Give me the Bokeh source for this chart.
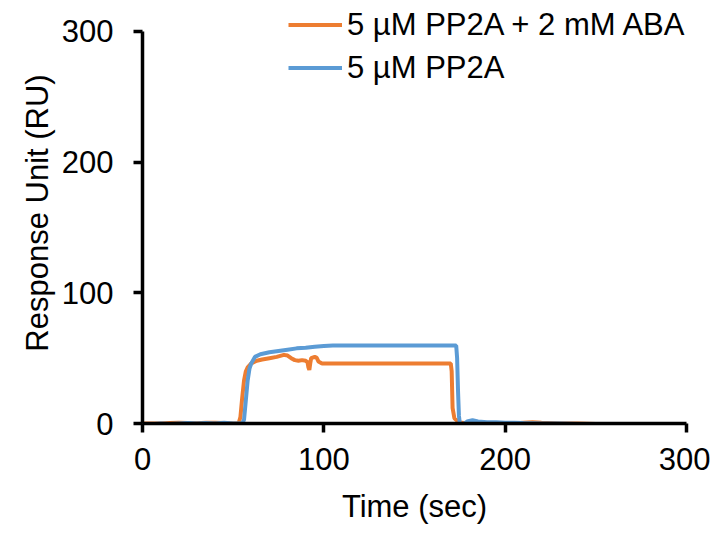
from bokeh.plotting import figure
from bokeh.models import Legend, LegendItem, FixedTicker, Range1d
from bokeh.embed import file_html
from bokeh.resources import INLINE

# ---- data ----
t_aba = [0, 5, 10, 15, 20, 25, 30, 35, 40, 45, 50, 53, 54, 55, 56, 57, 58, 60, 63, 66,
         70, 74, 78, 80, 82, 84, 86, 88, 90, 91, 91.5, 92, 92.5, 93, 95, 96, 97, 99,
         110, 130, 150, 170, 170.5, 171, 172, 174, 176, 180, 190, 197, 205, 210, 215,
         220, 230, 240, 250, 260, 268]
y_aba = [0, 0, 0, 0.3, 0.5, 0.3, 0.2, 0.5, 0.5, 0.3, 0, 0, 5, 20, 33, 40, 43, 46, 48, 49,
         50, 51, 52.5, 52, 50, 48.5, 48, 48.5, 48, 47, 43, 41, 46, 50, 51, 50.5, 47.5, 46,
         46, 46, 46, 46, 40, 12, 4, 1.5, 0.5, 0, 0, -0.3, 0, 0.5, 1, 0.5, 0, 0, -0.3, -0.3, -0.5]

t_pp2a = [0, 5, 10, 15, 20, 25, 30, 35, 40, 45, 50, 55, 56, 57, 58, 59, 60, 62, 65, 70,
          75, 80, 85, 90, 95, 100, 105, 120, 140, 160, 173, 173.5, 174, 174.5, 175, 177,
          179, 182, 185, 190, 195, 200, 205, 210, 220, 230, 240, 250, 260, 270]
y_pp2a = [-0.5, -0.5, 0, -0.3, 0, 0.3, 0, 0.3, 0, 0.5, 0, 0, 3, 18, 33, 42, 46, 51, 53, 54.5,
          55.5, 56.5, 57.5, 58, 58.8, 59.3, 59.6, 59.6, 59.6, 59.6, 59.6, 50, 25, 6, 0, -0.5,
          1.5, 2.5, 1.5, 1, 1, 0.5, 0.5, 0.3, 0, 0, -0.3, -0.5, -0.5, -0.5]

x_ticks = [0, 100, 200, 300]
y_ticks = [0, 100, 200, 300]

ORANGE = "#ED7D31"
BLUE = "#5B9BD5"
FONT = "Liberation Sans"
FS = "31px"

# frame extends above the 300 tick so the legend fits inside; axis drawn only to 300
p = figure(frame_width=544, frame_height=421,
           min_border_left=142, min_border_right=24, min_border_top=2, min_border_bottom=100,
           x_range=Range1d(0, 300), y_range=Range1d(0, 322.19),
           output_backend="svg", toolbar_location=None,
           background_fill_color="white", border_fill_color="white")
p.outline_line_color = None
p.xgrid.visible = False
p.ygrid.visible = False

r_aba = p.line(t_aba, y_aba, line_color=ORANGE, line_width=4)
r_pp = p.line(t_pp2a, y_pp2a, line_color=BLUE, line_width=4)

for ax, ticks in ((p.xaxis[0], x_ticks), (p.yaxis[0], y_ticks)):
    ax.ticker = FixedTicker(ticks=ticks)
    ax.bounds = (ticks[0], ticks[-1])
    ax.axis_line_width = 3.5
    ax.axis_line_color = "black"
    ax.major_tick_line_width = 3.5
    ax.major_tick_line_color = "black"
    ax.major_tick_in = 0
    ax.major_tick_out = 9
    ax.minor_tick_line_color = None
    ax.major_label_text_font = FONT
    ax.major_label_text_font_size = FS
    ax.major_label_text_color = "black"
    ax.axis_label_text_font = FONT
    ax.axis_label_text_font_size = FS
    ax.axis_label_text_font_style = "normal"
    ax.axis_label_text_color = "black"

p.xaxis.axis_label = "Time (sec)"
p.yaxis.axis_label = "Response Unit (RU)"
p.xaxis.major_label_standoff = 15
p.yaxis.major_label_standoff = 20
p.xaxis.axis_label_standoff = 16
p.yaxis.axis_label_standoff = 4

legend = Legend(items=[LegendItem(label="5 µM PP2A + 2 mM ABA", renderers=[r_aba]),
                       LegendItem(label="5 µM PP2A", renderers=[r_pp])],
                location=(146, 334), orientation="vertical",
                glyph_width=54, glyph_height=43, label_standoff=5, spacing=0,
                padding=0, margin=0, border_line_color=None, background_fill_alpha=0,
                label_text_font=FONT, label_text_font_size=FS, label_text_color="black",
                label_height=43)
p.add_layout(legend, "center")

open("out.html", "w").write(file_html(p, INLINE))
